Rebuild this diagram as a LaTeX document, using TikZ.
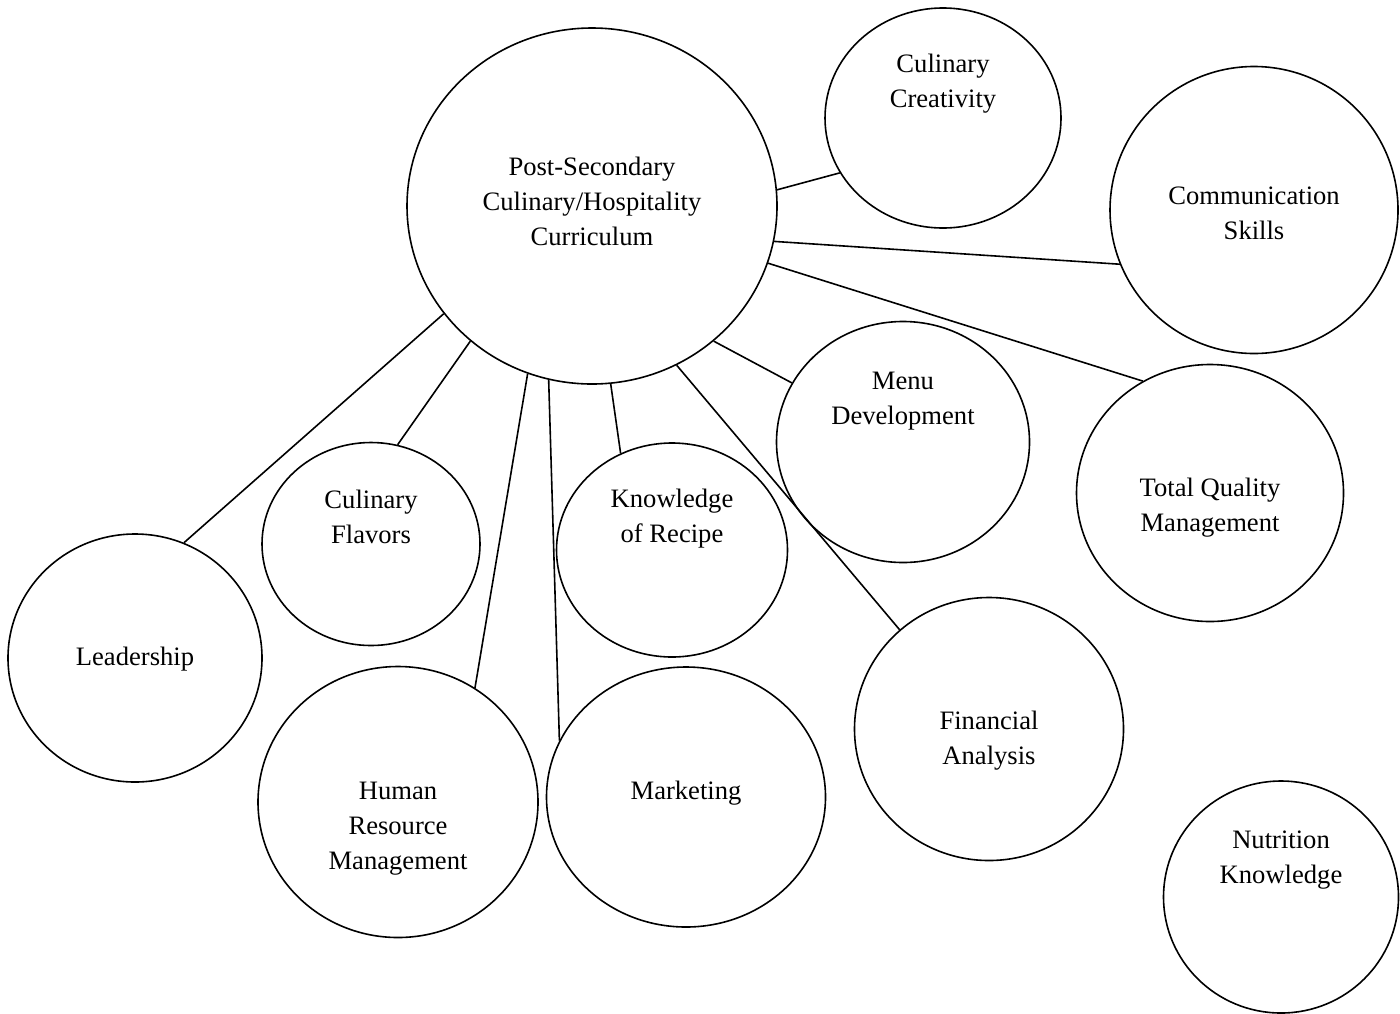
\documentclass[tikz,border=0pt]{standalone}
\usepackage{fontspec}
\setmainfont{Liberation Serif}
\usetikzlibrary{shapes.geometric}

\begin{document}
\begin{tikzpicture}[x = 0.5pt, y = -0.5pt,
  topic/.style = {draw, ellipse, line width = 0.8pt, inner sep = 0pt},
  txt/.style = {align = center, inner sep = 0pt, font = \fontsize{13.3}{17.5}\selectfont},
  link/.style = {line width = 0.8pt}]
\useasboundingbox (0, 0) rectangle (1400, 1013);
\node[topic, minimum width = 185pt, minimum height = 178pt] (curriculum) at (592, 206) {};
\node[topic, minimum width = 118pt, minimum height = 110pt] (creativity) at (943, 118) {};
\node[topic, minimum width = 144pt, minimum height = 143.5pt] (communication) at (1254, 210) {};
\node[topic, minimum width = 126.5pt, minimum height = 120.5pt] (menu) at (903, 442) {};
\node[topic, minimum width = 133.5pt, minimum height = 128.5pt] (quality) at (1210, 493) {};
\node[topic, minimum width = 109pt, minimum height = 101.5pt] (flavors) at (371, 544) {};
\node[topic, minimum width = 115.5pt, minimum height = 107pt] (recipe) at (672, 550) {};
\node[topic, minimum width = 127pt, minimum height = 124pt] (leadership) at (135, 658) {};
\node[topic, minimum width = 140pt, minimum height = 135.5pt] (resource) at (398, 802) {};
\node[topic, minimum width = 139.5pt, minimum height = 130pt] (marketing) at (686, 797) {};
\node[topic, minimum width = 134.5pt, minimum height = 131.5pt] (financial) at (989, 729) {};
\node[topic, minimum width = 117.5pt, minimum height = 116pt] (nutrition) at (1281, 897) {};

\node[txt] (curriculum text) at (592, 201) {Post-Secondary\\Culinary/Hospitality\\Curriculum};
\node[txt] (creativity text) at (943, 84) {Culinary\\Creativity};
\node[txt] (communication text) at (1254, 213) {Communication\\Skills};
\node[txt] (menu text) at (903, 401) {Menu\\Development};
\node[txt] (quality text) at (1210, 508) {Total Quality\\Management};
\node[txt] (flavors text) at (371, 517) {Culinary\\Flavors};
\node[txt] (recipe text) at (672, 519) {Knowledge\\of Recipe};
\node[txt] (leadership text) at (135, 659) {Leadership};
\node[txt] (resource text) at (398, 829) {Human\\Resource\\Management};
\node[txt] (marketing text) at (686, 793) {Marketing};
\node[txt] (financial text) at (989, 741) {Financial\\Analysis};
\node[txt] (nutrition text) at (1281, 860) {Nutrition\\Knowledge};

\draw[link] (curriculum.5) -- (creativity.-152);
\draw[link] (curriculum.-11) -- (communication.202.6);
\draw[link] (curriculum.-18.5) -- (quality.121.7);
\draw[link] (curriculum.-48.7) -- (menu.152.2);
\draw[link] (curriculum.-62.7) -- (financial.132.5);
\draw[link] (curriculum.-84) -- (recipe.118.7);
\draw[link] (curriculum.-104) -- (marketing.156.9);
\draw[link] (curriculum.-111.9) -- (resource.56.8);
\draw[link] (curriculum.-132.5) -- (flavors.75.3);
\draw[link] (curriculum.-144.1) -- (leadership.67.8);
\end{tikzpicture}
\end{document}
